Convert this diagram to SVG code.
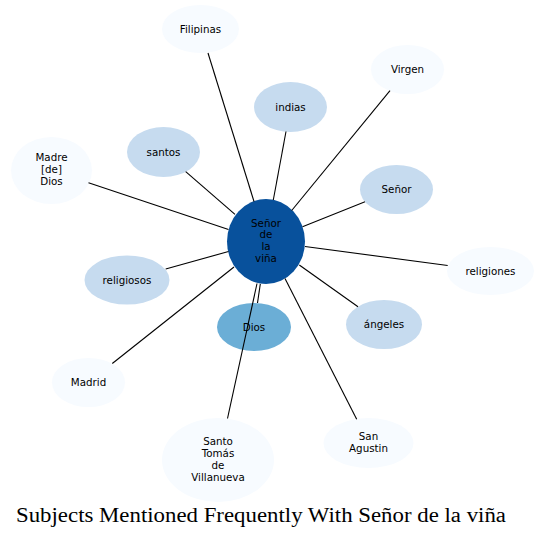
<svg xmlns="http://www.w3.org/2000/svg" width="545" height="538" viewBox="0 0 545 538">
<style>
.n text{font-family:"DejaVu Sans",sans-serif;font-size:10.3px;fill:#000;text-anchor:middle}
.l0{fill:#f7fbff}
.l1{fill:#c6dbef}
.l2{fill:#6baed6}
.l3{fill:#08519c}
#edges line{stroke:#000;stroke-width:1.1}
.title{font-family:"Liberation Serif","Times New Roman",serif;font-size:20.5px;fill:#000;text-anchor:middle}
</style>
<rect width="545" height="538" fill="#fff"/>
<g id="nodes">
<g id="n_center" class="n"><ellipse class="l3" cx="266" cy="241.5" rx="39" ry="42.5"/><text x="266" y="226.5">Señor</text><text x="266" y="238.3">de</text><text x="266" y="250">la</text><text x="266" y="261.8">viña</text></g>
<g id="n_filipinas" class="n"><ellipse class="l0" cx="200.5" cy="29" rx="38.5" ry="24"/><text x="200.5" y="32.5">Filipinas</text></g>
<g id="n_virgen" class="n"><ellipse class="l0" cx="407.5" cy="69.5" rx="36.5" ry="24.5"/><text x="407.5" y="73">Virgen</text></g>
<g id="n_indias" class="n"><ellipse class="l1" cx="290.5" cy="107" rx="36.5" ry="25"/><text x="290.5" y="110.5">indias</text></g>
<g id="n_santos" class="n"><ellipse class="l1" cx="163.5" cy="152" rx="36.5" ry="25"/><text x="163.5" y="155.5">santos</text></g>
<g id="n_madre" class="n"><ellipse class="l0" cx="51.5" cy="170.5" rx="40.5" ry="33.5"/><text x="51.5" y="161">Madre</text><text x="51.5" y="173">[de]</text><text x="51.5" y="185">Dios</text></g>
<g id="n_senor" class="n"><ellipse class="l1" cx="396.5" cy="189.5" rx="36.5" ry="24.5"/><text x="396.5" y="193">Señor</text></g>
<g id="n_religiones" class="n"><ellipse class="l0" cx="490.5" cy="271" rx="43.5" ry="24"/><text x="490.5" y="274.5">religiones</text></g>
<g id="n_religiosos" class="n"><ellipse class="l1" cx="127" cy="280" rx="42.5" ry="24.5"/><text x="127" y="283.5">religiosos</text></g>
<g id="n_angeles" class="n"><ellipse class="l1" cx="384" cy="324.5" rx="38" ry="24.5"/><text x="384" y="328">ángeles</text></g>
<g id="n_dios" class="n"><ellipse class="l2" cx="254" cy="327" rx="37" ry="24"/><text x="254" y="330.5">Dios</text></g>
<g id="n_madrid" class="n"><ellipse class="l0" cx="88.5" cy="382.5" rx="36.5" ry="24.5"/><text x="88.5" y="386">Madrid</text></g>
<g id="n_santotomas" class="n"><ellipse class="l0" cx="218" cy="460" rx="56" ry="42"/><text x="218" y="445">Santo</text><text x="218" y="457">Tomás</text><text x="218" y="469">de</text><text x="218" y="481">Villanueva</text></g>
<g id="n_sanagustin" class="n"><ellipse class="l0" cx="368.5" cy="443" rx="45" ry="25"/><text x="368.5" y="439.5">San</text><text x="368.5" y="451.5">Agustin</text></g>
</g>
<g id="edges">
<line x1="208" y1="53" x2="254" y2="201.5"/>
<line x1="286" y1="131.5" x2="273.3" y2="200"/>
<line x1="390" y1="90.7" x2="291.7" y2="210.5"/>
<line x1="365" y1="201.7" x2="302.5" y2="226.7"/>
<line x1="447.7" y1="265.5" x2="305" y2="246.5"/>
<line x1="358" y1="306.7" x2="299.3" y2="265"/>
<line x1="356.7" y1="419.3" x2="285" y2="278.5"/>
<line x1="227.5" y1="418.5" x2="257" y2="283.5"/>
<line x1="260.3" y1="284" x2="257.5" y2="303"/>
<line x1="112.3" y1="363.5" x2="234" y2="267"/>
<line x1="165.7" y1="269" x2="228.5" y2="251.5"/>
<line x1="185.7" y1="171.7" x2="235" y2="214.3"/>
<line x1="88.5" y1="182.7" x2="228.5" y2="229.5"/>
</g>
<text class="title" x="261" y="522" textLength="490" lengthAdjust="spacingAndGlyphs">Subjects Mentioned Frequently With Señor de la viña</text>
</svg>
